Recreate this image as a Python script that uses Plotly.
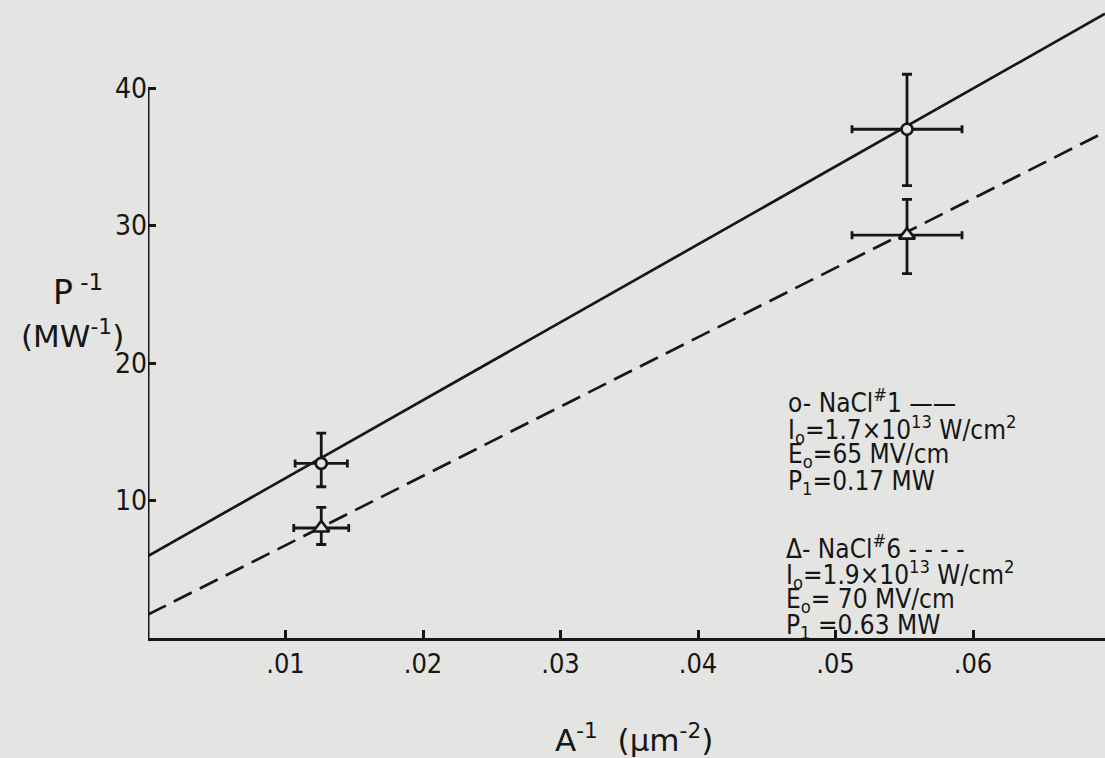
import plotly.graph_objects as go

# ---- data ----
x_pts = [0.0126, 0.0552]
circle_y = [12.7, 37.0]
circle_yerr_up = [2.2, 4.0]
circle_yerr_dn = [1.7, 4.1]
circle_xerr = [0.0019, 0.0040]

tri_y = [8.0, 29.3]
tri_yerr_up = [1.5, 2.6]
tri_yerr_dn = [1.2, 2.8]
tri_xerr = [0.0020, 0.0040]

fit_x = [0.0, 0.0696]
solid_y = [5.96, 45.4]
dashed_y = [1.7, 36.8]

x_ticks = [0.01, 0.02, 0.03, 0.04, 0.05, 0.06]
x_ticklabels = [".01", ".02", ".03", ".04", ".05", ".06"]
y_ticks = [10, 20, 30, 40]
y_ticklabels = ["10", "20", "30", "40"]

legend1 = ["o- NaCl<sup>#</sup>1 ——",
           "I<sub>o</sub>=1.7×10<sup>13</sup> W/cm<sup>2</sup>",
           "E<sub>o</sub>=65 MV/cm",
           "P<sub>1</sub>=0.17 MW"]
legend2 = ["Δ- NaCl<sup>#</sup>6 - - - -",
           "I<sub>o</sub>=1.9×10<sup>13</sup> W/cm<sup>2</sup>",
           "E<sub>o</sub>= 70 MV/cm",
           "P<sub>1</sub> =0.63 MW"]

# ---- layout constants ----
W, H = 1105, 758
ML, MR, MT, MB = 148, 0, 0, 120
PW, PH = W - ML - MR, H - MT - MB
BG = "#e4e5e2"
INK = "#161616"
NARROW = "DejaVu Sans Condensed, Liberation Sans Narrow, DejaVu Sans"
WIDE = "DejaVu Sans, Liberation Sans"


def px(xp):
    return (xp - ML) / PW


def py(yp):
    return (H - MB - yp) / PH


fig = go.Figure()

fig.add_trace(go.Scatter(x=fit_x, y=solid_y, mode="lines",
                         line=dict(color=INK, width=2.7), hoverinfo="skip"))
fig.add_trace(go.Scatter(x=fit_x, y=dashed_y, mode="lines",
                         line=dict(color=INK, width=2.7, dash="20px,9px"), hoverinfo="skip"))

fig.add_trace(go.Scatter(
    x=x_pts, y=circle_y, mode="markers",
    marker=dict(symbol="circle", size=11, color=BG, line=dict(color=INK, width=2.6)),
    error_y=dict(type="data", symmetric=False, array=circle_yerr_up, arrayminus=circle_yerr_dn,
                 color=INK, thickness=2.8, width=5),
    error_x=dict(type="data", array=circle_xerr, color=INK, thickness=2.8, width=4),
))
fig.add_trace(go.Scatter(
    x=x_pts, y=tri_y, mode="markers",
    marker=dict(symbol="triangle-up", size=14, color=BG, line=dict(color=INK, width=2.6)),
    error_y=dict(type="data", symmetric=False, array=tri_yerr_up, arrayminus=tri_yerr_dn,
                 color=INK, thickness=2.8, width=5),
    error_x=dict(type="data", array=tri_xerr, color=INK, thickness=2.8, width=4),
))

# y axis line from 0 to 40 only
fig.add_shape(type="line", xref="x", yref="y", x0=0, x1=0, y0=0, y1=y_ticks[-1],
              line=dict(color=INK, width=3))

annotations = []
leg_y1 = [401, 429, 456, 482]
leg_y2 = [547, 574, 600, 626]
for txt, yp in zip(legend1, leg_y1):
    annotations.append(dict(text=txt, x=px(786), y=py(yp), xref="paper", yref="paper",
                            xanchor="left", yanchor="middle", showarrow=False,
                            font=dict(family=NARROW, size=26, color=INK)))
for txt, yp in zip(legend2, leg_y2):
    annotations.append(dict(text=txt, x=px(784), y=py(yp), xref="paper", yref="paper",
                            xanchor="left", yanchor="middle", showarrow=False,
                            font=dict(family=NARROW, size=26, color=INK)))

# axis titles
annotations.append(dict(text="P<sup> -1</sup>", x=px(78), y=py(290), xref="paper", yref="paper",
                        xanchor="center", yanchor="middle", showarrow=False,
                        font=dict(family=WIDE, size=33, color=INK)))
annotations.append(dict(text="(MW<sup>-1</sup>)", x=px(72), y=py(334), xref="paper", yref="paper",
                        xanchor="center", yanchor="middle", showarrow=False,
                        font=dict(family=WIDE, size=31, color=INK)))
annotations.append(dict(text="A<sup>-1</sup>\u00a0\u00a0(μm<sup>-2</sup>)", x=px(634), y=py(738),
                        xref="paper", yref="paper", xanchor="center", yanchor="middle",
                        showarrow=False, font=dict(family=WIDE, size=31, color=INK)))

fig.update_layout(
    width=W, height=H,
    margin=dict(l=ML, r=MR, t=MT, b=MB),
    paper_bgcolor=BG, plot_bgcolor=BG,
    showlegend=False,
    annotations=annotations,
    xaxis=dict(range=[fit_x[0], fit_x[1]], tickvals=x_ticks, ticktext=x_ticklabels,
               showgrid=False, zeroline=False, showline=True, linecolor=INK, linewidth=3,
               ticks="inside", ticklen=8, tickwidth=2.5, tickcolor=INK,
               tickfont=dict(family=NARROW, size=27, color=INK)),
    yaxis=dict(range=[0, 46.4], tickvals=y_ticks, ticktext=y_ticklabels,
               showgrid=False, zeroline=False, showline=False,
               ticks="inside", ticklen=8, tickwidth=2.5, tickcolor=INK,
               tickfont=dict(family=NARROW, size=28, color=INK)),
)

fig.write_html("out.html", config={"displayModeBar": False},
               post_script="document.body.style.margin='0';document.body.style.overflow='hidden';")
